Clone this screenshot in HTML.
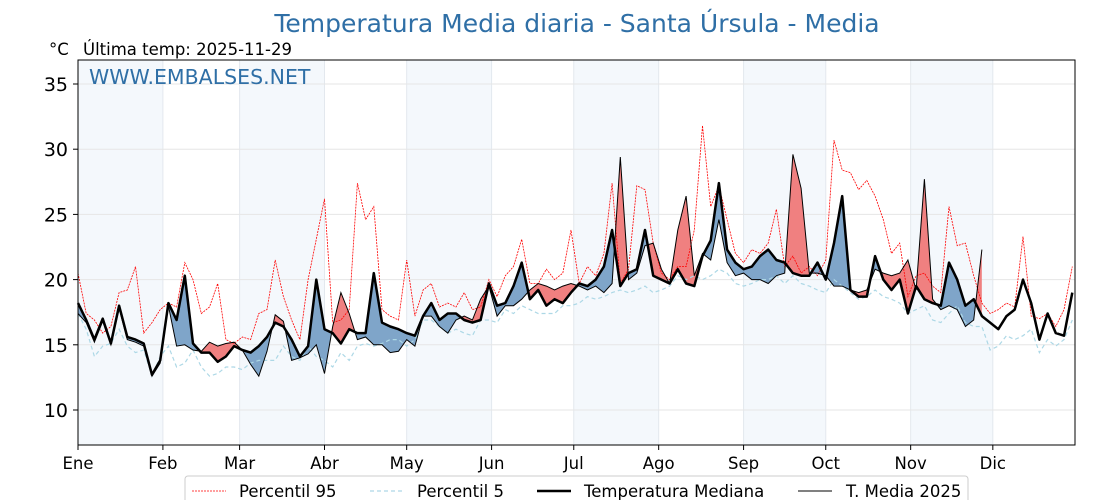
<!DOCTYPE html>
<html><head><meta charset="utf-8"><style>
html,body{margin:0;padding:0;background:#fff;}
svg{display:block;font-family:"DejaVu Sans","Liberation Sans",sans-serif;}
</style></head><body>
<svg id="chart" width="1120" height="500" viewBox="0 0 1120 500">
<text x="577" y="32" text-anchor="middle" font-size="25" fill="#2f6fa6">Temperatura Media diaria - Santa Úrsula - Media</text>
<text x="49" y="55" font-size="16.5" fill="#000">°C</text>
<text x="83" y="55" font-size="16.5" fill="#000">Última temp: 2025-11-29</text>
<g id="bands"></g>
<g id="grid"></g>
<g id="series"></g>
<rect x="78" y="60" width="997" height="385" fill="none" stroke="#000" stroke-width="1"/>
<text x="89" y="84" font-size="20.5" fill="#2f6fa6">WWW.EMBALSES.NET</text>
<g id="axes"></g>
<g>
<rect x="185" y="476" width="783" height="40" rx="3" fill="#fff" stroke="#ccc"/>
<g><line x1="192" y1="491" x2="226" y2="491" stroke="#f00" stroke-width="0.8" stroke-dasharray="2,1"/><text x="239" y="497" font-size="16.5">Percentil 95</text></g>
<g><line x1="370" y1="491" x2="404" y2="491" stroke="#add8e6" stroke-width="1.2" stroke-dasharray="4,3"/><text x="417" y="497" font-size="16.5">Percentil 5</text></g>
<g><line x1="537" y1="491" x2="571" y2="491" stroke="#000" stroke-width="2.5"/><text x="584" y="497" font-size="16.5">Temperatura Mediana</text></g>
<g><line x1="798" y1="491" x2="832" y2="491" stroke="#000" stroke-width="1"/><text x="846" y="497" font-size="16.5">T. Media 2025</text></g>
</g>
</svg>
<script>
const monthLabels = ["Ene","Feb","Mar","Abr","May","Jun","Jul","Ago","Sep","Oct","Nov","Dic"];
const monthStartDays = [0,31,59,90,120,151,181,212,243,273,304,334];
const yTicks = [10,15,20,25,30,35];
const dayStep = 3;
const median = [18.2,16.9,15.4,17.0,15.1,18.0,15.6,15.4,15.1,12.7,13.8,18.2,16.9,20.3,15.1,14.4,14.4,13.7,14.1,14.9,14.6,14.4,14.9,15.6,16.7,16.4,15.4,14.1,14.9,20.0,16.2,15.9,15.1,16.2,15.9,15.9,20.5,16.7,16.4,16.2,
15.9,15.7,17.2,18.2,16.9,17.4,17.4,16.9,16.7,16.9,19.7,18.0,18.2,19.5,21.3,18.5,19.2,18.0,18.5,18.2,19.0,19.7,19.5,20.0,21.0,23.8,19.5,20.5,20.8,23.8,20.3,20.0,19.7,20.8,19.7,19.5,21.8,23.0,27.4,22.3,
21.3,20.8,21.0,21.8,22.3,21.5,21.3,20.5,20.3,20.3,21.3,20.0,22.8,26.4,19.2,18.7,18.7,21.8,20.0,19.2,20.0,17.4,19.5,18.5,18.2,18.0,21.3,20.0,18.0,18.5,17.2,16.7,16.2,17.2,17.7,20.0,18.2,15.4,17.4,15.9,15.7,19.0];
const temp2025 = [17.4,16.7,15.2,16.8,15.0,17.8,15.4,15.2,14.9,12.6,13.6,18.0,14.9,15.0,14.6,14.5,15.2,14.9,15.1,15.2,14.6,13.5,12.6,14.5,17.3,16.8,13.8,14.0,14.3,15.0,12.8,16.4,19.0,17.4,15.4,15.6,15.0,15.0,14.4,14.5,
15.4,14.9,17.2,17.2,16.4,15.9,16.9,17.2,16.9,18.5,19.5,17.2,18.0,18.0,18.5,19.2,19.7,19.5,19.2,19.5,19.7,19.5,19.2,19.5,19.0,19.7,29.4,20.0,20.5,22.6,22.8,20.8,19.7,23.8,26.4,20.3,22.0,21.5,24.6,21.3,
20.3,20.5,20.0,20.0,19.7,20.3,20.5,29.6,27.0,20.5,20.5,20.3,19.5,19.5,19.2,19.0,19.2,20.8,20.5,20.3,20.5,21.5,19.2,27.7,18.5,17.7,18.0,17.7,16.4,16.9,22.3];
const p95 = [20.5,17.4,16.9,15.9,16.4,19.0,19.2,21.0,15.9,16.7,17.7,18.2,17.9,21.3,20.0,17.4,17.9,19.7,15.4,15.1,15.6,15.4,17.4,17.7,21.5,18.7,16.9,15.4,20.0,23.1,26.2,16.7,16.9,17.7,27.4,24.6,25.6,17.7,17.2,16.9,
21.5,17.2,19.2,19.7,17.9,18.2,17.9,19.0,17.7,17.9,20.0,18.7,20.3,21.0,23.1,19.7,19.7,20.8,20.0,20.5,23.8,19.7,21.0,20.3,22.0,27.4,19.7,20.8,27.2,26.9,22.8,20.5,20.0,21.0,21.0,23.8,31.8,25.6,27.2,24.6,
22.0,21.3,22.3,22.0,22.8,25.4,21.0,21.8,20.5,21.0,20.3,21.5,30.7,28.4,28.2,26.9,27.6,26.4,24.6,22.0,22.8,18.7,20.3,20.5,19.5,19.0,25.6,22.6,22.8,20.3,18.2,17.4,17.7,18.2,17.9,23.3,17.2,17.0,17.4,16.4,17.7,21.0];
const p5 = [17.4,16.2,14.1,14.9,15.1,16.2,14.9,14.4,14.6,12.6,14.1,14.9,13.3,13.6,14.6,13.3,12.6,12.8,13.3,13.3,13.1,13.6,13.8,13.8,13.8,14.9,14.1,13.8,14.9,14.1,13.8,13.3,14.4,13.8,14.9,15.1,14.9,15.1,15.4,15.4,
14.9,15.4,16.9,16.9,16.4,15.9,16.2,15.9,15.7,16.9,16.9,16.7,17.7,17.4,18.0,17.7,17.4,17.4,17.4,18.0,18.0,18.2,18.7,18.5,18.7,19.0,19.2,19.0,19.2,19.5,19.0,19.2,19.5,20.3,20.0,20.3,20.0,20.3,20.8,20.5,
19.7,19.5,19.7,20.0,20.0,20.3,19.7,20.3,19.7,19.5,19.2,19.0,20.0,19.5,19.0,18.5,18.7,19.2,18.7,18.5,18.2,17.4,17.7,18.0,16.9,16.7,17.4,18.0,16.7,16.4,16.4,14.6,14.9,15.7,15.4,15.7,16.2,14.4,15.4,14.9,15.4,16.9];

const NS = "http://www.w3.org/2000/svg";
const X0 = 78, X1 = 1075, Y0 = 60, Y1 = 445;
const xScale = d => X0 + d * (X1 - X0) / 364;
const yScale = v => 410 - (v - 10) * 13.04;
function mk(tag, attrs, parent){const e=document.createElementNS(NS,tag);for(const k in attrs)e.setAttribute(k,attrs[k]);parent.appendChild(e);return e;}
const bands = document.getElementById('bands'), grid = document.getElementById('grid'), series = document.getElementById('series'), axes = document.getElementById('axes');

monthStartDays.forEach((d,i)=>{
  const end = i<11 ? monthStartDays[i+1] : 364;
  if(i%2===0){
    const r = mk('rect',{x:xScale(d),y:Y0,width:xScale(end)-xScale(d),height:Y1-Y0,fill:'#f4f8fc'},bands);
    
    
  }
  const gl = mk('line',{x1:xScale(d),y1:Y0,x2:xScale(d),y2:Y1,stroke:'#e3e8ee','stroke-width':1},grid);
  
  
  const tk = mk('line',{x1:xScale(d),y1:Y1,x2:xScale(d),y2:Y1+5,stroke:'#000'},axes);
  
  
  const t = mk('text',{x:xScale(d),y:469,'font-size':16.5,'text-anchor':'middle'},axes);
  t.textContent = monthLabels[i];
  
  
});
yTicks.forEach(v=>{
  const gl = mk('line',{x1:X0,y1:yScale(v),x2:X1,y2:yScale(v),stroke:'#e6e6e6','stroke-width':1},grid);
  
  
  const tk = mk('line',{x1:X0-5,y1:yScale(v),x2:X0,y2:yScale(v),stroke:'#000'},axes);
  
  
  const t = mk('text',{x:68,y:yScale(v)+7,'font-size':19,'text-anchor':'end'},axes);
  t.textContent = v;
  
  
});

const pts = arr => arr.map((v,i)=>[xScale(i*dayStep), yScale(v)]);
const toStr = p => p.map(q=>q[0].toFixed(1)+','+q[1].toFixed(1)).join(' ');
const n25 = temp2025.length;
const medPts = pts(median).slice(0,n25);
const tPts = pts(temp2025);
const defs = mk('defs',{},series);
const cAbove = mk('clipPath',{id:'above'},defs);
mk('polygon',{points:toStr([[medPts[0][0],Y0],...medPts,[medPts[n25-1][0],Y0]])},cAbove);
const cBelow = mk('clipPath',{id:'below'},defs);
mk('polygon',{points:toStr([[medPts[0][0],Y1],...medPts,[medPts[n25-1][0],Y1]])},cBelow);
const fillPoly = toStr([...tPts,...medPts.slice().reverse()]);
const fr = mk('polygon',{points:fillPoly,fill:'#f08080','clip-path':'url(#above)'},series);


const fb = mk('polygon',{points:fillPoly,fill:'#7fa5c9','clip-path':'url(#below)'},series);



const l95 = mk('polyline',{points:toStr(pts(p95)),fill:'none',stroke:'#f00','stroke-width':0.8,'stroke-dasharray':'2,1'},series);


const l5 = mk('polyline',{points:toStr(pts(p5)),fill:'none',stroke:'#add8e6','stroke-width':1.2,'stroke-dasharray':'4,3'},series);


const lm = mk('polyline',{points:toStr(pts(median)),fill:'none',stroke:'#000','stroke-width':2.5,'stroke-linejoin':'round'},series);


const lt = mk('polyline',{points:toStr(tPts),fill:'none',stroke:'#000','stroke-width':1},series);


</script>
</body></html>
